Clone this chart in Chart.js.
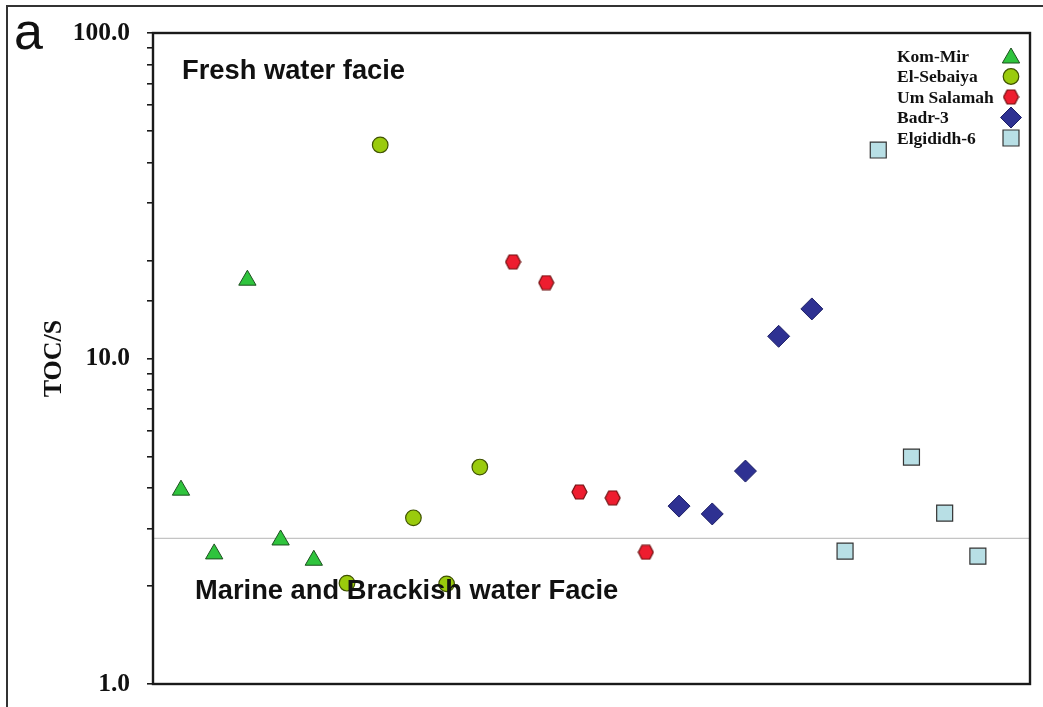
<!DOCTYPE html>
<html>
<head>
<meta charset="utf-8">
<script src="https://cdn.jsdelivr.net/npm/chart.js@4.4.1/dist/chart.umd.min.js"></script>
<style>
  html, body { margin: 0; padding: 0; background: #ffffff; }
  #wrap { position: relative; width: 1043px; height: 707px; }
  canvas { display: block; }
</style>
</head>
<body>
<div id="wrap"><canvas id="chart" width="1043" height="707"></canvas></div>
<script>
// Sample order along the horizontal axis (one slot per sample)
const kommirX     = [1, 2, 3, 4, 5];
const elsebaiyaX  = [6, 7, 8, 9, 10];
const umsalamahX  = [11, 12, 13, 14, 15];
const badrX       = [16, 17, 18, 19, 20];
const elgididhX   = [21, 22, 23, 24, 25];

// TOC/S ratios per well
const kommirY     = [3.94, 2.51, 17.4, 2.77, 2.40];
const elsebaiyaY  = [2.04, 45.3, 3.24, 2.03, 4.64];
const umsalamahY  = [19.8, 17.1, 3.89, 3.73, 2.54];
const badrY       = [3.52, 3.33, 4.51, 11.7, 14.2];
const elgididhY   = [2.56, 43.7, 4.98, 3.35, 2.47];

// Boundary between fresh and marine/brackish water facies
const faciesBoundary = 2.8;
const xRange = [0.157, 26.57];

const seriesNames = ['Kom-Mir', 'El-Sebaiya', 'Um Salamah', 'Badr-3', 'Elgididh-6'];
const yTickLabels = { 1: '1.0', 10: '10.0', 100: '100.0' };

// Hexagon marker (flat top and bottom)
function hexagonMarker(w, h, fill, stroke) {
  const c = document.createElement('canvas');
  c.width = w; c.height = h;
  const g = c.getContext('2d');
  const m = 1;
  g.beginPath();
  g.moveTo(m, h / 2);
  g.lineTo(w * 0.27, m);
  g.lineTo(w * 0.73, m);
  g.lineTo(w - m, h / 2);
  g.lineTo(w * 0.73, h - m);
  g.lineTo(w * 0.27, h - m);
  g.closePath();
  g.fillStyle = fill; g.fill();
  g.lineWidth = 1.2; g.strokeStyle = stroke; g.stroke();
  return c;
}
const hexImg = hexagonMarker(17, 16, '#ee1d2f', '#6e1010');

function pts(xs, ys) { return xs.map((x, i) => ({ x: x, y: ys[i] })); }

const styles = [
  { pointStyle: 'triangle', radius: 10,  bg: '#2fc43d', border: '#1c4f1f', width: 1 },
  { pointStyle: 'circle',   radius: 7.8, bg: '#9acb0c', border: '#3f5200', width: 1.2 },
  { pointStyle: hexImg,     radius: 8,   bg: '#ee1d2f', border: '#6e1010', width: 1 },
  { pointStyle: 'rectRot',  radius: 11,  bg: '#2e3192', border: '#1d1f66', width: 1 },
  { pointStyle: 'rect',     radius: 11.3, bg: '#b8dfe5', border: '#333333', width: 1.2 }
];
const seriesData = [
  pts(kommirX, kommirY),
  pts(elsebaiyaX, elsebaiyaY),
  pts(umsalamahX, umsalamahY),
  pts(badrX, badrY),
  pts(elgididhX, elgididhY)
];

const datasets = [{
  label: 'boundary',
  data: [{ x: xRange[0], y: faciesBoundary }, { x: xRange[1], y: faciesBoundary }],
  showLine: true,
  borderColor: '#c4c4c4',
  borderWidth: 1.2,
  pointRadius: 0,
  order: 10
}];
seriesNames.forEach((name, i) => {
  const s = styles[i];
  datasets.push({
    label: name,
    data: seriesData[i],
    pointStyle: s.pointStyle,
    pointRadius: s.radius,
    pointBackgroundColor: s.bg,
    pointBorderColor: s.border,
    pointBorderWidth: s.width,
    showLine: false,
    order: 1
  });
});

// Frame, panel letter, facies captions and the legend
const decorations = {
  id: 'decorations',
  afterDraw(chart) {
    const ctx = chart.ctx;
    const a = chart.chartArea;
    ctx.save();
    // outer frame
    ctx.strokeStyle = '#333333';
    ctx.lineWidth = 2;
    ctx.beginPath();
    ctx.moveTo(7, 707);
    ctx.lineTo(7, 6);
    ctx.lineTo(1043, 6);
    ctx.stroke();
    // plot frame
    ctx.strokeStyle = '#1a1a1a';
    ctx.lineWidth = 2.4;
    ctx.strokeRect(a.left, a.top, a.right - a.left, a.bottom - a.top);
    // panel letter
    ctx.fillStyle = '#111111';
    ctx.font = '52px "Liberation Sans", Arial, sans-serif';
    ctx.textAlign = 'left';
    ctx.textBaseline = 'alphabetic';
    ctx.fillText('a', 14, 49);
    // facies captions
    ctx.font = 'bold 27.3px "Liberation Sans", Arial, sans-serif';
    ctx.fillText('Fresh water facie', 182, 79);
    ctx.fillText('Marine and Brackish water Facie', 195, 599);
    // legend
    ctx.font = 'bold 17.5px "Liberation Serif", "Times New Roman", serif';
    ctx.textBaseline = 'middle';
    seriesNames.forEach((name, i) => {
      const y = 56 + i * 20.5;
      ctx.fillStyle = '#111111';
      ctx.fillText(name, 897, y + 1);
      const s = styles[i];
      ctx.fillStyle = s.bg;
      ctx.strokeStyle = s.border;
      ctx.lineWidth = s.width;
      const r = i === 3 ? 10.5 : s.radius;
      Chart.helpers.drawPoint(ctx, { pointStyle: s.pointStyle, radius: r, borderWidth: s.width, rotation: 0 },
        1011, i === 0 ? y + 2 : y);
    });
    ctx.restore();
  }
};

new Chart(document.getElementById('chart'), {
  type: 'scatter',
  data: { datasets: datasets },
  options: {
    responsive: false,
    animation: false,
    devicePixelRatio: 1,
    layout: { autoPadding: false, padding: { top: 33, right: 13, left: 0, bottom: 0 } },
    plugins: { legend: { display: false }, tooltip: { enabled: false } },
    scales: {
      x: {
        type: 'linear',
        min: xRange[0],
        max: xRange[1],
        ticks: { display: false },
        grid: { display: false },
        border: { display: false },
        afterFit(scale) {
          scale.height = 23;
          scale.paddingLeft = 0; scale.paddingRight = 0;
        }
      },
      y: {
        type: 'logarithmic',
        min: 1,
        max: 100,
        border: { display: false },
        grid: {
          drawOnChartArea: false,
          drawTicks: true,
          tickLength: 6,
          color: '#1a1a1a',
          lineWidth: 1.6
        },
        ticks: {
          autoSkip: false,
          padding: 17,
          color: '#111111',
          font: { family: '"Liberation Serif", "Times New Roman", serif', size: 25.5, weight: 'bold' },
          callback(value) { return yTickLabels[value] || ''; }
        },
        title: {
          display: true,
          text: 'TOC/S',
          color: '#111111',
          font: { family: '"Liberation Serif", "Times New Roman", serif', size: 26, weight: 'bold' },
          padding: { top: 39, bottom: 0 }
        },
        afterFit(scale) {
          scale.width = 153;
          scale.paddingTop = 0; scale.paddingBottom = 0;
        }
      }
    }
  },
  plugins: [decorations]
});
</script>
</body>
</html>
